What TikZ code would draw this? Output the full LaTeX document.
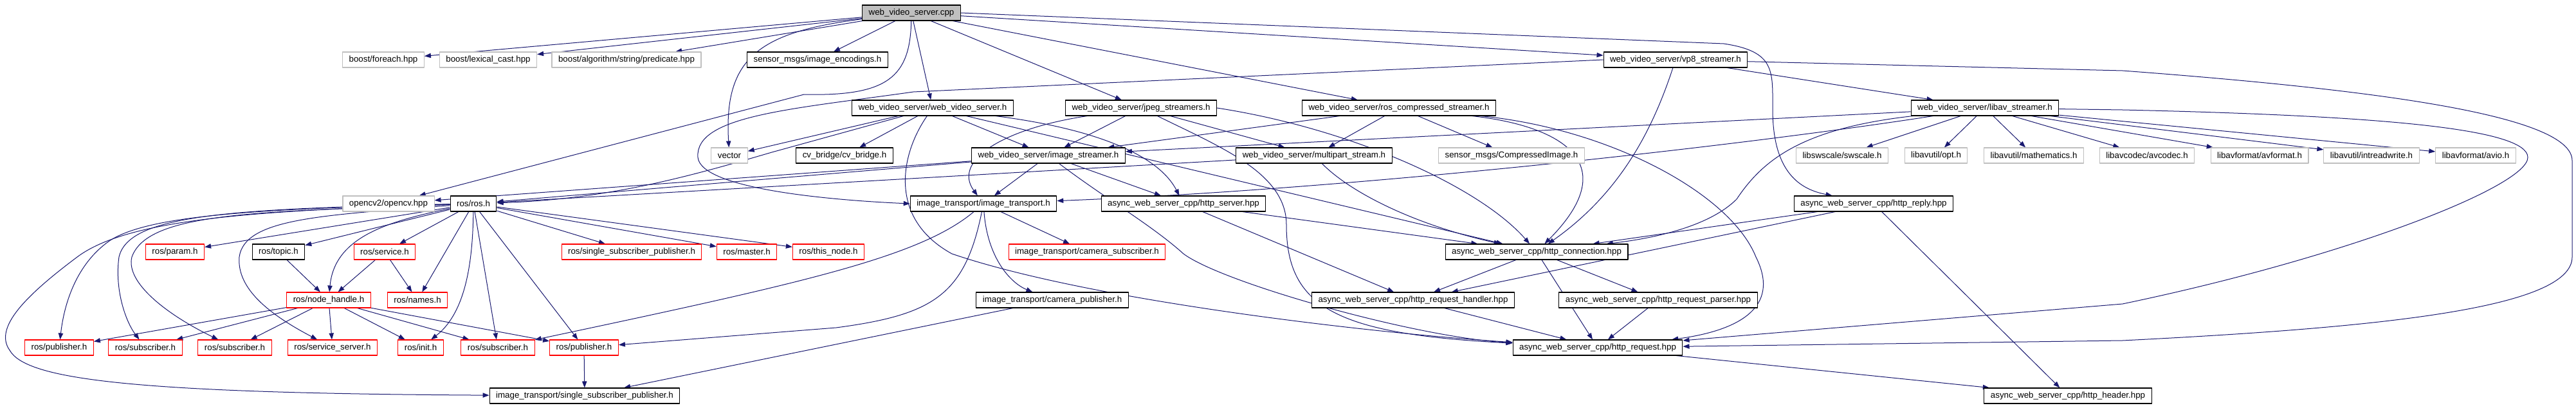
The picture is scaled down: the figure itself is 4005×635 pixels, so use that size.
\documentclass[tikz,border=0pt]{standalone}
\usepackage{fontspec}
\setmainfont{Liberation Sans}
\usetikzlibrary{arrows.meta}
\definecolor{dxblue}{HTML}{191970}
\definecolor{dxgray}{HTML}{BFBFBF}
\pgfdeclarelayer{bg}
\pgfsetlayers{bg,main}
\begin{document}
\begin{tikzpicture}[x=0.75pt,y=-0.75pt,>={Triangle[length=7.5pt,width=5.5pt]},
  font=\fontsize{10}{12}\selectfont, line join=round, line cap=round,
  box/.style={draw=black,line width=0.8pt,fill=white,inner xsep=7.5pt,inner ysep=0pt,minimum height=18pt},
  gbox/.style={box,draw=dxgray},
  rbox/.style={box,draw=red},
  inc/.style={->,draw=dxblue,line width=0.75pt}]
\def\yA{20} \def\yB{93} \def\yC{168} \def\yD{242} \def\yE{317}
\def\yF{392} \def\yG{467} \def\yH{541} \def\yI{616} % rows
\useasboundingbox (0,0) rectangle (4005,635);
% row 0 and 1
\node[box,fill=dxgray] (cpp) at (1417,\yA) {web\_video\_server.cpp};
\node[gbox] (foreach) at (596,\yB) {boost/foreach.hpp};
\node[gbox] (lexcast) at (759,\yB) {boost/lexical\_cast.hpp};
\node[gbox] (predicate) at (974,\yB) {boost/algorithm/string/predicate.hpp};
\node[box] (encodings) at (1271,\yB) {sensor\_msgs/image\_encodings.h};
\node[box] (vpeight) at (2605,\yB) {web\_video\_server/vp8\_streamer.h};
% row 2
\node[box] (wvsh) at (1450,\yC) {web\_video\_server/web\_video\_server.h};
\node[box] (jpeg) at (1774,\yC) {web\_video\_server/jpeg\_streamers.h};
\node[box] (roscomp) at (2175,\yC) {web\_video\_server/ros\_compressed\_streamer.h};
\node[box] (libav) at (3086,\yC) {web\_video\_server/libav\_streamer.h};
% row 3
\node[gbox] (vector) at (1134,\yD) {vector};
\node[box] (cvbridge) at (1313,\yD) {cv\_bridge/cv\_bridge.h};
\node[box] (imgstream) at (1630,\yD) {web\_video\_server/image\_streamer.h};
\node[box] (multipart) at (2043,\yD) {web\_video\_server/multipart\_stream.h};
\node[gbox] (compimg) at (2350,\yD) {sensor\_msgs/CompressedImage.h};
\node[gbox] (swscale) at (2864,\yD) {libswscale/swscale.h};
\node[gbox] (opt) at (3010,\yD) {libavutil/opt.h};
\node[gbox] (mathematics) at (3162,\yD) {libavutil/mathematics.h};
\node[gbox] (avcodec) at (3338,\yD) {libavcodec/avcodec.h};
\node[gbox] (avformat) at (3513,\yD) {libavformat/avformat.h};
\node[gbox] (intrw) at (3687,\yD) {libavutil/intreadwrite.h};
\node[gbox] (avio) at (3849,\yD) {libavformat/avio.h};
% row 4
\node[gbox] (opencv) at (604,\yE) {opencv2/opencv.hpp};
\node[box] (ros) at (736,\yE) {ros/ros.h};
\node[box] (imgtrans) at (1529,\yE) {image\_transport/image\_transport.h};
\node[box] (httpserver) at (1840,\yE) {async\_web\_server\_cpp/http\_server.hpp};
\node[box] (httpreply) at (2913,\yE) {async\_web\_server\_cpp/http\_reply.hpp};
% row 5
\node[rbox] (param) at (272,\yF) {ros/param.h};
\node[box] (topic) at (433,\yF) {ros/topic.h};
\node[rbox] (service) at (598,\yF) {ros/service.h};
\node[rbox] (rosssp) at (982,\yF) {ros/single\_subscriber\_publisher.h};
\node[rbox] (master) at (1161,\yF) {ros/master.h};
\node[rbox] (thisnode) at (1288,\yF) {ros/this\_node.h};
\node[rbox] (camsub) at (1690,\yF) {image\_transport/camera\_subscriber.h};
\node[box] (httpconn) at (2389,\yF) {async\_web\_server\_cpp/http\_connection.hpp};
% row 6
\node[rbox] (nodehandle) at (511,\yG) {ros/node\_handle.h};
\node[rbox] (names) at (649,\yG) {ros/names.h};
\node[box] (campub) at (1636,\yG) {image\_transport/camera\_publisher.h};
\node[box] (reqhandler) at (2197,\yG) {async\_web\_server\_cpp/http\_request\_handler.hpp};
\node[box] (reqparser) at (2578,\yG) {async\_web\_server\_cpp/http\_request\_parser.hpp};
% row 7 and 8
\node[rbox] (pubA) at (92,\yH) {ros/publisher.h};
\node[rbox] (subA) at (226,\yH) {ros/subscriber.h};
\node[rbox] (subB) at (365,\yH) {ros/subscriber.h};
\node[rbox] (srvserver) at (517,\yH) {ros/service\_server.h};
\node[rbox] (init) at (654,\yH) {ros/init.h};
\node[rbox] (subC) at (774,\yH) {ros/subscriber.h};
\node[rbox] (pubB) at (908,\yH) {ros/publisher.h};
\node[box] (httpreq) at (2484,\yH) {async\_web\_server\_cpp/http\_request.hpp};
\node[box] (itssp) at (909,\yI) {image\_transport/single\_subscriber\_publisher.h};
\node[box] (httpheader) at (3215,\yI) {async\_web\_server\_cpp/http\_header.hpp};

\begin{pgfonlayer}{bg}
% web_video_server.cpp
\foreach \t in {foreach,lexcast,predicate,encodings,wvsh,jpeg,roscomp,vpeight}
  \draw[inc] (cpp) -- (\t);
\draw[inc] (cpp) .. controls (1180,50) and (1125,90) .. (vector);
\draw[inc] (cpp) .. controls (1415,120) and (1380,150) .. (1250,147) -- (opencv);
\draw[inc] (cpp.east) -- (2680,68) .. controls (2760,80) and (2756,110) .. (2756,170)
  .. controls (2756,270) and (2800,295) .. (httpreply);
% vp8 and libav streamers
\draw[inc] (vpeight) -- (libav);
\draw[inc] (vpeight.west) -- (1420,143) .. controls (1230,170) and (1080,180) .. (1085,245)
  .. controls (1090,295) and (1300,312) .. (imgtrans.west);
\draw[inc] (vpeight) .. controls (2570,200) and (2520,300) .. (httpconn);
\draw[inc] (vpeight) -- (3300,110) .. controls (3700,140) and (3999,180) .. (3999,250) -- (3999,400)
  .. controls (3999,480) and (3700,510) .. (3300,530) -- (httpreq);
\foreach \t in {swscale,opt,mathematics,avcodec,avformat,intrw,avio,imgstream}
  \draw[inc] (libav) -- (\t);
\draw[inc] (libav) .. controls (2700,228) and (2100,295) .. (imgtrans);
\draw[inc] (libav) .. controls (2800,200) and (2740,250) .. (2700,310)
  .. controls (2660,350) and (2580,370) .. (httpconn);
\draw[inc] (libav) -- (3300,171) .. controls (3700,180) and (3930,200) .. (3930,245)
  .. controls (3930,290) and (3650,400) .. (3300,473) -- (httpreq);
% web_video_server.h
\foreach \t in {vector,cvbridge,imgstream,httpconn}
  \draw[inc] (wvsh) -- (\t);
\draw[inc] (wvsh) -- (1200,237) .. controls (1080,272) and (950,310) .. (ros);
\draw[inc] (wvsh) .. controls (1700,200) and (1800,240) .. (httpserver);
\draw[inc] (wvsh) .. controls (1400,240) and (1380,340) .. (1480,395)
  .. controls (1700,470) and (2150,520) .. (httpreq);
% jpeg and compressed streamers
\draw[inc] (jpeg) -- (imgstream);
\draw[inc] (jpeg) -- (multipart);
\draw[inc] (jpeg) .. controls (1560,200) and (1480,250) .. (imgtrans);
\draw[inc] (jpeg.east) .. controls (2100,200) and (2300,290) .. (httpconn);
\draw[inc] (jpeg) .. controls (1900,230) and (2000,270) .. (2000,350)
  .. controls (2000,480) and (2080,520) .. (httpreq);
\foreach \t in {imgstream,multipart,compimg}
  \draw[inc] (roscomp) -- (\t);
\draw[inc] (roscomp) .. controls (2420,195) and (2530,250) .. (httpconn);
\draw[inc] (roscomp) .. controls (2500,200) and (2690,300) .. (2730,400)
  .. controls (2770,480) and (2700,515) .. ([xshift=-13pt]httpreq.north east);
% image_streamer.h, multipart_stream.h
\foreach \t in {opencv,ros,imgtrans,httpserver}
  \draw[inc] (imgstream) -- (\t);
\draw[inc] (imgstream) .. controls (1720,310) and (1790,350) .. (1840,395)
  .. controls (1900,440) and (2200,525) .. (httpreq);
\draw[inc] (multipart) -- (ros);
\draw[inc] (multipart) .. controls (2100,300) and (2200,350) .. (httpconn);
% image_transport.h
\draw[inc] (imgtrans) -- (camsub);
\draw[inc] (imgtrans) .. controls (1535,400) and (1570,440) .. (campub);
\draw[inc] (imgtrans) .. controls (1430,400) and (1250,440) .. (subC);
\draw[inc] (imgtrans) .. controls (1500,460) and (1450,490) .. (1300,510) -- (pubB);
\draw[inc] (pubB) -- (itssp);
\draw[inc] (campub) -- (itssp);
% async_web_server_cpp
\draw[inc] (httpserver) -- (httpconn);
\draw[inc] (httpserver) -- (reqhandler);
\foreach \t in {httpconn,reqhandler,httpheader}
  \draw[inc] (httpreply) -- (\t);
\foreach \t in {reqhandler,httpreq,reqparser}
  \draw[inc] (httpconn) -- (\t);
\draw[inc] (reqhandler) -- (httpreq);
\draw[inc] (reqparser) -- (httpreq);
\draw[inc] (httpreq) -- (httpheader);
% ros/ros.h
\foreach \t in {param,topic,service,names,rosssp,master,thisnode,subC,pubB}
  \draw[inc] (ros) -- (\t);
\draw[inc] (ros) .. controls (735,420) and (720,490) .. (init);
\draw[inc] (ros) .. controls (600,345) and (520,370) .. (nodehandle);
\draw[inc] (ros) .. controls (400,325) and (230,335) .. (170,375)
  .. controls (120,410) and (100,470) .. (pubA);
\draw[inc] (ros) .. controls (350,325) and (200,335) .. (185,400)
  .. controls (178,450) and (195,500) .. (subA);
\draw[inc] (ros) .. controls (400,330) and (230,330) .. (205,400)
  .. controls (195,440) and (260,490) .. (subB);
\draw[inc] (ros) .. controls (500,335) and (380,340) .. (372,400)
  .. controls (368,450) and (420,490) .. (srvserver);
\draw[inc] (ros) .. controls (400,328) and (200,340) .. (120,400)
  .. controls (40,460) and (-10,510) .. (15,545) .. controls (40,590) and (200,612) .. (itssp);
\draw[inc] (topic) -- (nodehandle);
\draw[inc] (service) -- (nodehandle);
\draw[inc] (service) -- (names);
\foreach \t in {pubA,subA,subB,srvserver,init,subC,pubB}
  \draw[inc] (nodehandle) -- (\t);
\end{pgfonlayer}
\end{tikzpicture}
\end{document}
